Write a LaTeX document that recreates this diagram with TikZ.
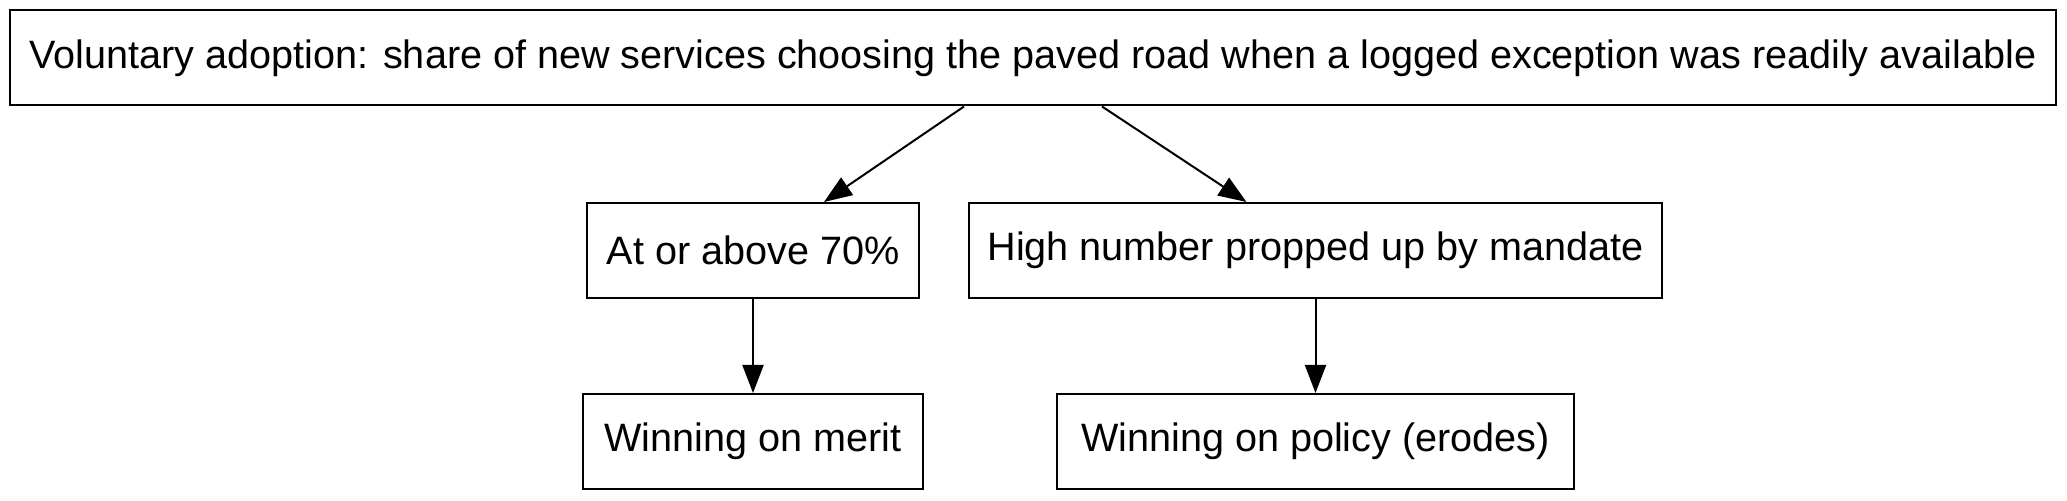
\documentclass[tikz,border=0pt]{standalone}
\usepackage{fontspec}
\setmainfont{Liberation Sans}
\usepackage{tikz}
\usetikzlibrary{arrows.meta,positioning,calc}
\tikzset{
  box/.style={draw=black,line width=1pt,minimum height=47.5pt,
              inner sep=0pt,align=center,font=\fontsize{19.8}{24}\selectfont},
  flow/.style={-{Triangle[length=14pt,width=10.5pt]},line width=1pt},
}

\begin{document}
\begin{tikzpicture}[x=0.5pt,y=-0.5pt]
  \useasboundingbox (0,0) rectangle (2067,501);
  \node[box,minimum width=1023pt](adopt) at (1033,58)
    {Voluntary adoption: share of new services choosing the paved road when a logged exception was readily available};
  \node[box,minimum width=166pt](above) at (753,250.5){At or above 70\%};
  \node[box,minimum width=346.5pt](mandate) at (1315.5,250.5){High number propped up by mandate};
  \node[box,minimum width=170pt](merit) at (753,441.5){Winning on merit};
  \node[box,minimum width=258.5pt](policy) at (1315.5,441.5){Winning on policy (erodes)};
  % arrows
  \draw[flow] ($(adopt.south)+(-69,0)$) -- ($(above.north)+(71,0)$);
  \draw[flow] ($(adopt.south)+(69,0)$) -- ($(mandate.north)+(-69,0)$);
  \draw[flow] (above) -- (merit);
  \draw[flow] (mandate) -- (policy);
\end{tikzpicture}
\end{document}
